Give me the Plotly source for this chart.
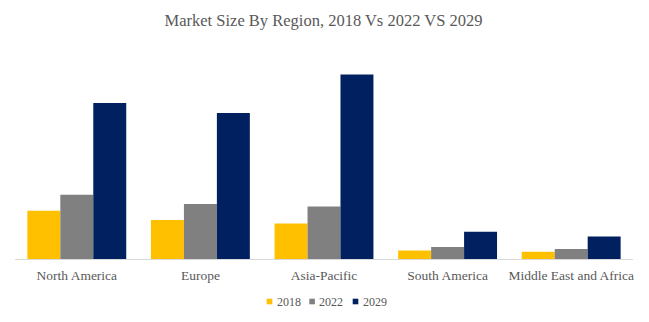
import plotly.graph_objects as go

regions = ["North America", "Europe", "Asia-Pacific", "South America", "Middle East and Africa"]
years = ["2018", "2022", "2029"]
values_2018 = [48.3, 39.0, 35.6, 8.6, 7.3]
values_2022 = [64.3, 55.0, 52.6, 12.0, 10.0]
values_2029 = [156.0, 146.0, 184.6, 27.3, 22.6]
colors = ["#FFC000", "#808080", "#002060"]

font_family = "Palatino Linotype, Book Antiqua, Palatino, Liberation Serif, serif"

W, H = 649, 322
ML, MR, MT, MB = 15, 16, 50, 63
plot_w = W - ML - MR
plot_h = H - MT - MB

fig = go.Figure()
for name, vals, col in zip(years, [values_2018, values_2022, values_2029], colors):
    fig.add_trace(go.Bar(x=regions, y=vals, name=name, showlegend=False,
                         marker=dict(color=col, line=dict(width=0))))

# manual compact legend (squares + text)
legend_sq_x = [266.7, 309.3, 352.7]
legend_y = 301.5
sq = 5.6
def px_x(x):
    return (x - ML) / plot_w
def px_y(y):
    return (H - MB - y) / plot_h
for name, col, lx in zip(years, colors, legend_sq_x):
    fig.add_shape(type="rect", xref="paper", yref="paper",
                  x0=px_x(lx), x1=px_x(lx + sq), y0=px_y(legend_y + sq / 2), y1=px_y(legend_y - sq / 2),
                  fillcolor=col, line=dict(width=0))
    fig.add_annotation(text=name, xref="paper", yref="paper", x=px_x(lx + sq + 2.5), y=px_y(legend_y),
                       xanchor="left", yanchor="middle", showarrow=False,
                       font=dict(family=font_family, size=12, color="#595959"))

fig.update_layout(
    width=W, height=H,
    margin=dict(l=ML, r=MR, t=MT, b=MB, autoexpand=False),
    paper_bgcolor="white", plot_bgcolor="white",
    barmode="group", bargap=0.2, bargroupgap=0,
    title=dict(text="Market Size By Region, 2018 Vs 2022 VS 2029", x=323.5 / W, xref="container",
               xanchor="center", y=1 - 20 / H, yref="container", yanchor="middle",
               font=dict(family=font_family, size=16.5, color="#595959")),
    font=dict(family=font_family, size=13.5, color="#595959"),
    showlegend=False,
    xaxis=dict(showline=True, linecolor="#d9d9d9", linewidth=1, ticks="", automargin=False,
               showgrid=False, ticklabelstandoff=4, tickfont=dict(size=13.5, color="#595959")),
    yaxis=dict(visible=False, range=[0, plot_h], showgrid=False, automargin=False),
)

fig.write_html("out.html")
